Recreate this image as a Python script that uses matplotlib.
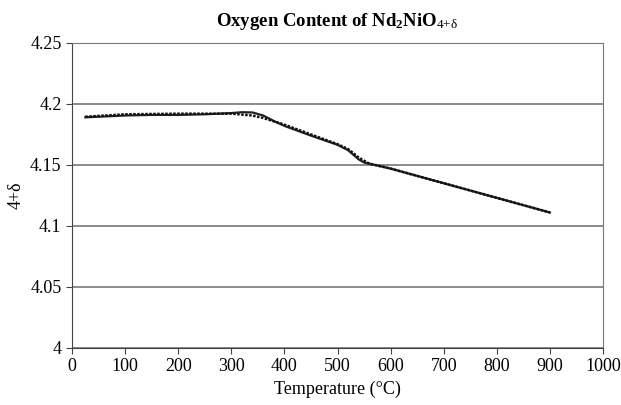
import matplotlib
matplotlib.use("Agg")
import matplotlib.pyplot as plt

plt.rcParams['font.family'] = ['Liberation Serif', 'DejaVu Serif']
plt.rcParams['mathtext.fontset'] = 'custom'
plt.rcParams['mathtext.rm'] = 'Liberation Serif'
plt.rcParams['mathtext.it'] = 'Liberation Serif:italic'
plt.rcParams['mathtext.bf'] = 'Liberation Serif:bold'

# heating run
temp_a = [25, 50, 100, 150, 200, 250, 300, 320, 340, 360, 380, 400, 450,
          500, 520, 540, 550, 600, 700, 800, 900]
oxy_a = [4.189, 4.1895, 4.1905, 4.191, 4.191, 4.1915, 4.1925, 4.1932, 4.193,
         4.1905, 4.186, 4.182, 4.174, 4.1665, 4.162, 4.1545, 4.152, 4.147,
         4.135, 4.123, 4.111]
# cooling run (dotted)
temp_b = [25, 100, 200, 300, 340, 360, 400, 450, 500, 520, 540, 560, 600,
          700, 800, 900]
oxy_b = [4.1895, 4.1915, 4.192, 4.192, 4.1905, 4.1885, 4.183, 4.175, 4.167,
         4.163, 4.156, 4.151, 4.147, 4.135, 4.123, 4.111]

fig = plt.figure(figsize=(6.21, 4.05), dpi=100)
ax = fig.add_axes([0.116, 0.141, 0.855, 0.753])

ax.plot(temp_a, oxy_a, color='#222222', lw=1.6)
ax.plot(temp_b, oxy_b, color='#111111', lw=1.8, ls=(0, (1, 0.6)))

ax.set_xlim(0, 1000)
ax.set_ylim(4.0, 4.25)
ax.set_xticks(range(0, 1001, 100))
ax.set_yticks([4, 4.05, 4.1, 4.15, 4.2, 4.25])
ax.set_yticklabels(['4', '4.05', '4.1', '4.15', '4.2', '4.25'])
ax.yaxis.grid(True, color='#777777', lw=1.2)
ax.set_axisbelow(True)

ax.spines['top'].set_color('#777777')
ax.spines['right'].set_color('#777777')
ax.spines['left'].set_color('#444444')
ax.spines['bottom'].set_color('#444444')
ax.tick_params(direction='out', length=4, color='#444444', labelsize=13)

ax.set_xlabel('Temperature (°C)', fontsize=13)
ax.set_ylabel('4+δ', fontsize=13)
ax.set_title(r'Oxygen Content of Nd$_\mathbf{2}$NiO$_{\mathrm{4{+}δ}}$',
             fontsize=13.5, fontweight='bold', pad=12)

fig.savefig('out.png', dpi=100)
